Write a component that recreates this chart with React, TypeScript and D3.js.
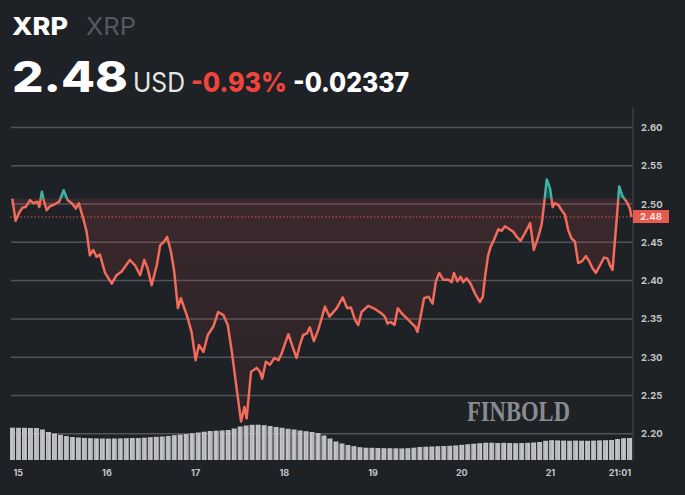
import React from "react";
import * as d3 from "d3";

// ---- data ----
// hours since day 15 00:00, price in USD
const priceSeries: [number, number][] = [
  [-1.6, 2.507], [-0.7, 2.478], [0.2, 2.488], [1.1, 2.495], [2.0, 2.496], [3.2, 2.505],
  [4.1, 2.501], [5.2, 2.503], [5.7, 2.496], [6.4, 2.516], [7.1, 2.501], [7.7, 2.492],
  [8.6, 2.497], [10.0, 2.5], [11.1, 2.503], [12.3, 2.518], [13.4, 2.505], [14.5, 2.501],
  [15.6, 2.494], [16.4, 2.501], [17.6, 2.481], [18.5, 2.464], [19.4, 2.433], [20.3, 2.44],
  [21.2, 2.431], [22.1, 2.434], [23.5, 2.41], [25.3, 2.396], [26.6, 2.407], [28.0, 2.412],
  [30.2, 2.427], [31.6, 2.42], [33.0, 2.407], [34.1, 2.427], [35.0, 2.416], [36.1, 2.394],
  [37.5, 2.42], [38.4, 2.446], [39.5, 2.451], [40.3, 2.457], [41.3, 2.438], [42.2, 2.412],
  [43.2, 2.364], [44.0, 2.377], [45.6, 2.355], [46.9, 2.333], [48.0, 2.296], [48.9, 2.316],
  [50.1, 2.307], [51.3, 2.329], [52.8, 2.34], [54.1, 2.359], [55.5, 2.355], [56.7, 2.342],
  [57.8, 2.307], [59.1, 2.259], [60.3, 2.216], [61.2, 2.235], [61.8, 2.22], [63.0, 2.281],
  [64.5, 2.286], [65.4, 2.281], [66.0, 2.272], [67.0, 2.294], [68.1, 2.29], [69.3, 2.299],
  [70.4, 2.296], [71.3, 2.305], [72.2, 2.318], [73.1, 2.33], [74.2, 2.314], [75.3, 2.299],
  [76.2, 2.316], [77.1, 2.329], [78.1, 2.331], [78.9, 2.339], [80.0, 2.321], [81.2, 2.336],
  [83.0, 2.366], [84.2, 2.353], [86.2, 2.364], [87.8, 2.378], [89.0, 2.364], [90.0, 2.365],
  [91.1, 2.349], [92.0, 2.342], [92.9, 2.359], [94.7, 2.367], [96.5, 2.363], [98.3, 2.357],
  [99.2, 2.353], [99.9, 2.344], [100.8, 2.346], [101.8, 2.342], [102.7, 2.364], [103.8, 2.357],
  [105.1, 2.351], [106.5, 2.344], [107.4, 2.34], [108.0, 2.333], [108.7, 2.349], [109.8, 2.377],
  [111.0, 2.379], [112.1, 2.37], [113.0, 2.399], [113.9, 2.41], [115.0, 2.401], [116.4, 2.401],
  [117.3, 2.398], [117.9, 2.41], [118.8, 2.399], [119.7, 2.405], [120.4, 2.398], [121.3, 2.403],
  [122.4, 2.396], [123.6, 2.383], [124.9, 2.372], [125.7, 2.379], [126.3, 2.405], [127.1, 2.432],
  [127.8, 2.444], [128.7, 2.453], [129.9, 2.467], [130.8, 2.465], [131.7, 2.471], [132.9, 2.467],
  [133.9, 2.464], [134.9, 2.457], [135.9, 2.452], [137.1, 2.462], [138.5, 2.475], [139.5, 2.44],
  [140.7, 2.457], [141.6, 2.473], [142.3, 2.501], [143.0, 2.532], [143.9, 2.52], [144.6, 2.496],
  [145.2, 2.501], [146.1, 2.499], [147.0, 2.492], [147.9, 2.486], [148.8, 2.466], [149.7, 2.455],
  [150.6, 2.451], [151.5, 2.423], [152.5, 2.425], [153.6, 2.432], [154.5, 2.425], [155.4, 2.416],
  [156.3, 2.41], [157.4, 2.42], [158.5, 2.43], [159.4, 2.429], [160.1, 2.42], [160.8, 2.414],
  [161.9, 2.479], [162.6, 2.523], [163.5, 2.51], [164.6, 2.503], [165.5, 2.494], [165.9, 2.483],
];

// volume, one bar per ~1.6 h (arbitrary units)
const volumeSeries: number[] = [
  32.3, 32.2, 32.2, 32.0, 32.0, 30.5, 28.0, 26.5, 25.2, 24.0, 23.0, 22.5, 22.0, 21.8, 21.6,
  21.5, 21.4, 21.5, 21.6, 21.8, 22.0, 22.0, 22.3, 22.8, 23.2, 23.5, 24.0, 24.8, 25.5, 26.0,
  26.8, 27.5, 28.3, 29.0, 29.3, 29.6, 30.0, 31.5, 33.5, 34.5, 35.2, 35.3, 34.8, 34.0, 33.0,
  32.2, 31.2, 30.5, 29.5, 28.8, 28.0, 27.0, 24.5, 21.5, 18.5, 16.5, 15.0, 13.8, 12.8, 12.3,
  12.2, 12.0, 11.8, 11.8, 11.7, 11.6, 11.8, 12.3, 13.0, 13.3, 13.5, 13.8, 14.0, 14.2, 14.6,
  15.2, 15.8, 16.3, 16.8, 17.3, 17.3, 17.0, 17.2, 17.0, 16.8, 17.0, 17.2, 17.5, 18.0, 19.2,
  19.8, 19.6, 19.4, 19.2, 19.4, 19.3, 19.2, 19.4, 19.6, 19.8, 20.0, 21.0, 21.8, 22.0,
];

const yTicks: number[] = [2.2, 2.25, 2.3, 2.35, 2.4, 2.45, 2.5, 2.55, 2.6];
const xTickHours: number[] = [0, 24, 48, 72, 96, 120, 144, 162.8];
const xTickLabels: string[] = ["15", "16", "17", "18", "19", "20", "21", "21:01"];

const lastPrice = 2.483;
const baselinePrice = 2.5068;
const symbol = "XRP";
const priceText = "2.48";
const currency = "USD";
const changePct = "-0.93%";
const changeAbs = "-0.02337";

// ---- layout ----
const W = 685;
const H = 495;
const plotLeft = 10;
const plotRight = 633;
const plotTop = 108;
const volBottom = 460;

const BG = "#1e2126";
const RED = "#f26b5b";
const TEAL = "#3fb3a6";

export default function App() {
  const x = d3.scaleLinear().domain([-2.22, 166.33]).range([plotLeft, plotRight]);
  const y = d3.scaleLinear().domain([2.2, 2.6]).range([433.8, 127.4]);
  const vx = d3
    .scaleBand<number>()
    .domain(volumeSeries.map((_, i) => i))
    .range([plotLeft, plotRight - 1])
    .paddingInner(0.17);
  const vy = d3.scaleLinear().domain([0, 40]).range([volBottom, volBottom - 40]);

  const baseY = y(baselinePrice);
  const line = d3
    .line<[number, number]>()
    .x((d) => x(d[0]))
    .y((d) => y(d[1]))
    .curve(d3.curveLinear);
  const area = d3
    .area<[number, number]>()
    .x((d) => x(d[0]))
    .y0(baseY)
    .y1((d) => y(d[1]))
    .curve(d3.curveLinear);
  const linePath = line(priceSeries) || "";
  const areaPath = area(priceSeries) || "";
  const lastY = y(lastPrice);

  return (
    <svg
      width={W}
      height={H}
      style={{ position: "absolute", left: 0, top: 0, display: "block" }}
      fontFamily="Inter, 'Noto Sans', sans-serif"
    >
      <defs>
        <clipPath id="below">
          <rect x={0} y={baseY} width={W} height={H - baseY} />
        </clipPath>
        <clipPath id="above">
          <rect x={0} y={0} width={W} height={baseY} />
        </clipPath>
        <linearGradient id="redFill" gradientUnits="userSpaceOnUse" x1={0} y1={baseY} x2={0} y2={434}>
          <stop offset="0" stopColor="#ef5350" stopOpacity={0.14} />
          <stop offset="1" stopColor="#ef5350" stopOpacity={0.05} />
        </linearGradient>
        <pattern id="volStripes" patternUnits="userSpaceOnUse" width={3.4} height={10}>
          <rect x={0} y={0} width={3.4} height={10} fill="#b5b6bb" />
          <rect x={1.2} y={0} width={0.9} height={10} fill="#d3d4d7" />
        </pattern>
      </defs>
      <rect x={0} y={0} width={W} height={H} fill={BG} />

      {/* header */}
      <text x={12} y={35} fontSize={24} fontWeight={800} fill="#ffffff" textLength={56} lengthAdjust="spacingAndGlyphs">
        {symbol}
      </text>
      <text x={86} y={35} fontSize={24} fontWeight={400} fill="#55585e" textLength={50} lengthAdjust="spacingAndGlyphs">
        {symbol}
      </text>
      <text x={12} y={92} fontSize={42} fontWeight={800} fill="#ffffff" textLength={116} lengthAdjust="spacingAndGlyphs">
        {priceText}
      </text>
      <text x={133} y={92} fontSize={27} fontWeight={400} fill="#e6e6e6" textLength={52} lengthAdjust="spacingAndGlyphs">
        {currency}
      </text>
      <text x={191} y={92} fontSize={27} fontWeight={800} fill="#f0443c" textLength={96} lengthAdjust="spacingAndGlyphs">
        {changePct}
      </text>
      <text x={293} y={92} fontSize={27} fontWeight={800} fill="#ffffff" textLength={116} lengthAdjust="spacingAndGlyphs">
        {changeAbs}
      </text>

      {/* grid */}
      {yTicks.map((t) => (
        <line key={t} x1={plotLeft + 1} x2={plotRight} y1={y(t)} y2={y(t)} stroke="#515459" strokeWidth={1.5} />
      ))}
      <line x1={plotRight} x2={plotRight} y1={plotTop} y2={volBottom} stroke="#43464b" strokeWidth={1.2} />

      {/* watermark */}
      <text
        x={467}
        y={421}
        fontFamily="'Liberation Serif', 'DejaVu Serif', serif"
        fontSize={30}
        fontWeight={700}
        fill="#8a8b8f"
        textLength={103}
        lengthAdjust="spacingAndGlyphs"
      >
        FINBOLD
      </text>

      {/* volume */}
      <g>
        {volumeSeries.map((v, i) => (
          <rect key={i} x={vx(i)} y={vy(v)} width={vx.bandwidth()} height={volBottom - vy(v)} fill="url(#volStripes)" />
        ))}
      </g>

      {/* baseline area + line */}
      <path d={areaPath} fill="url(#redFill)" clipPath="url(#below)" />
      <path d={areaPath} fill={TEAL} fillOpacity={0.25} clipPath="url(#above)" />
      <line
        x1={plotLeft}
        x2={plotRight}
        y1={lastY}
        y2={lastY}
        stroke="#e0574b"
        strokeWidth={1}
        strokeDasharray="1.5 2"
      />
      <path d={linePath} fill="none" stroke={RED} strokeWidth={2.5} strokeLinejoin="round" clipPath="url(#below)" />
      <path d={linePath} fill="none" stroke={TEAL} strokeWidth={2.5} strokeLinejoin="round" clipPath="url(#above)" />

      {/* y axis labels */}
      {yTicks.map((t) => (
        <text key={t} x={641} y={y(t) + 3.5} fontSize={9.5} fontWeight={700} fill="#c4c5c8">
          {t.toFixed(2)}
        </text>
      ))}
      <rect x={633} y={lastY - 7} width={36} height={13} fill="#e65a4f" />
      <text x={651} y={lastY + 3.3} fontSize={9.5} fontWeight={700} fill="#ffe6e2" textAnchor="middle">
        {lastPrice.toFixed(2)}
      </text>

      {/* x axis labels */}
      {xTickHours.map((h, i) => (
        <text key={h} x={x(h)} y={475.5} fontSize={9} fontWeight={700} fill="#c4c5c8" textAnchor="middle">
          {xTickLabels[i]}
        </text>
      ))}
    </svg>
  );
}
